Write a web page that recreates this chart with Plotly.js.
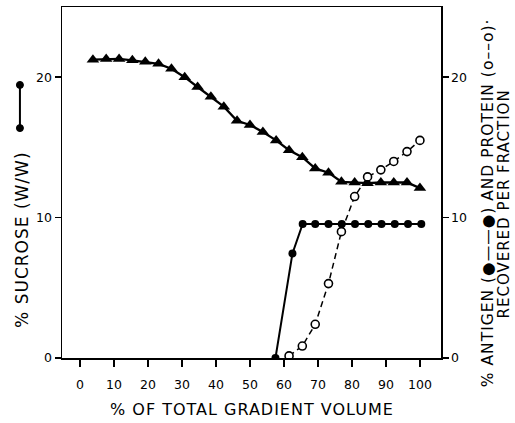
<!DOCTYPE html>
<html>
<head>
<meta charset="utf-8">
<script src="https://cdn.plot.ly/plotly-3.0.1.min.js"></script>
<style>
html,body{margin:0;padding:0;background:#fff;}
#chart{width:515px;height:423px;}
.annotation-text{letter-spacing:1px;}
</style>
</head>
<body>
<div id="chart"></div>
<script>
// % of total gradient volume for each fraction
var sucroseX = [3.8, 7.7, 11.5, 15.4, 19.2, 23.1, 26.9, 30.8, 34.6, 38.5, 42.3, 46.2, 50, 53.8, 57.7, 61.5, 65.4, 69.2, 73.1, 76.9, 80.8, 84.6, 88.5, 92.3, 96.2, 100];
var sucroseY = [21.25, 21.3, 21.3, 21.2, 21.1, 20.95, 20.6, 20.0, 19.3, 18.6, 17.9, 16.9, 16.6, 16.1, 15.5, 14.8, 14.3, 13.5, 13.2, 12.55, 12.5, 12.45, 12.5, 12.5, 12.5, 12.1];

var antigenX = [57.5, 62.5, 65.5, 69.2, 73.1, 77, 80.9, 84.8, 88.7, 92.6, 96.5, 100.4];
var antigenY = [0, 7.45, 9.55, 9.55, 9.55, 9.55, 9.55, 9.55, 9.55, 9.55, 9.55, 9.55];

var proteinX = [61.5, 65.4, 69.2, 73.1, 76.9, 80.8, 84.6, 88.5, 92.3, 96.2, 100];
var proteinY = [0.15, 0.85, 2.4, 5.3, 9.0, 11.5, 12.9, 13.4, 14.0, 14.7, 15.5];

var xTicks = [0, 10, 20, 30, 40, 50, 60, 70, 80, 90, 100];
var yTicks = [0, 10, 20];

var FONT = 'DejaVu Sans, sans-serif';

var traces = [
  {x: sucroseX, y: sucroseY, mode: 'lines+markers', xaxis: 'x', yaxis: 'y',
   line: {color: '#000', width: 2.3}, marker: {symbol: 'triangle-up', size: 11, color: '#000'}},
  {x: proteinX, y: proteinY, mode: 'lines+markers', xaxis: 'x', yaxis: 'y2',
   line: {color: '#000', width: 1.5, dash: '6px,4px'},
   marker: {symbol: 'circle', size: 8, color: '#fff', line: {color: '#000', width: 1.6}}},
  {x: antigenX, y: antigenY, mode: 'lines+markers', xaxis: 'x', yaxis: 'y2',
   line: {color: '#000', width: 2}, marker: {symbol: 'circle', size: 8, color: '#000'}}
];

var layout = {
  width: 515, height: 423,
  margin: {l: 62, r: 74, t: 7, b: 65},
  paper_bgcolor: '#fff', plot_bgcolor: '#fff',
  showlegend: false,
  font: {family: FONT, color: '#000', size: 12},
  xaxis: {
    range: [-5.3, 106.2], tickvals: xTicks, ticktext: xTicks.map(String),
    ticks: 'outside', ticklen: 7, tickwidth: 1.5, tickcolor: '#000',
    showline: true, linecolor: '#000', linewidth: 1.5, mirror: true,
    showgrid: false, zeroline: false, ticklabelstandoff: 7,
    tickfont: {family: FONT, size: 12.5, color: '#000'}
  },
  yaxis: {
    range: [0, 25], tickvals: yTicks, ticktext: yTicks.map(String),
    ticks: 'outside', ticklen: 6, tickwidth: 1.5, tickcolor: '#000',
    showline: true, linecolor: '#000', linewidth: 1.5,
    showgrid: false, zeroline: false,
    tickfont: {family: FONT, size: 12.5, color: '#000'}
  },
  yaxis2: {
    range: [0, 25], tickvals: yTicks, ticktext: yTicks.map(String),
    overlaying: 'y', side: 'right', anchor: 'x',
    ticks: 'outside', ticklen: 6, tickwidth: 1.5, tickcolor: '#000',
    showline: true, linecolor: '#000', linewidth: 1.5,
    showgrid: false, zeroline: false,
    tickfont: {family: FONT, size: 12.5, color: '#000'}
  },
  annotations: [
    {text: '% OF TOTAL GRADIENT VOLUME', xref: 'paper', yref: 'paper', x: 0.5, y: -0.148,
     xanchor: 'center', yanchor: 'middle', showarrow: false, font: {family: FONT, size: 16}},
    {text: '% SUCROSE (W/W)', xref: 'paper', yref: 'paper', x: -0.106, y: 0.336,
     xanchor: 'center', yanchor: 'middle', textangle: -90, showarrow: false, font: {family: FONT, size: 17}},
    {text: '% ANTIGEN (●——●) AND PROTEIN (o––o)·', xref: 'paper', yref: 'paper', x: 1.124, y: 0.444,
     xanchor: 'center', yanchor: 'middle', textangle: -90, showarrow: false, font: {family: FONT, size: 15.5}},
    {text: 'RECOVERED PER FRACTION', xref: 'paper', yref: 'paper', x: 1.166, y: 0.44,
     xanchor: 'center', yanchor: 'middle', textangle: -90, showarrow: false, font: {family: FONT, size: 15}}
  ],
  shapes: [
    {type: 'line', xref: 'paper', yref: 'paper', x0: -0.111, x1: -0.111, y0: 0.655, y1: 0.778,
     line: {color: '#000', width: 2}},
    {type: 'circle', xref: 'paper', yref: 'paper', xsizemode: 'pixel', ysizemode: 'pixel',
     xanchor: -0.111, yanchor: 0.778, x0: -3.5, x1: 3.5, y0: -3.5, y1: 3.5,
     fillcolor: '#000', line: {color: '#000', width: 1}},
    {type: 'circle', xref: 'paper', yref: 'paper', xsizemode: 'pixel', ysizemode: 'pixel',
     xanchor: -0.111, yanchor: 0.655, x0: -3.5, x1: 3.5, y0: -3.5, y1: 3.5,
     fillcolor: '#000', line: {color: '#000', width: 1}}
  ]
};

Plotly.newPlot('chart', traces, layout, {displayModeBar: false, staticPlot: true});
</script>
</body>
</html>
